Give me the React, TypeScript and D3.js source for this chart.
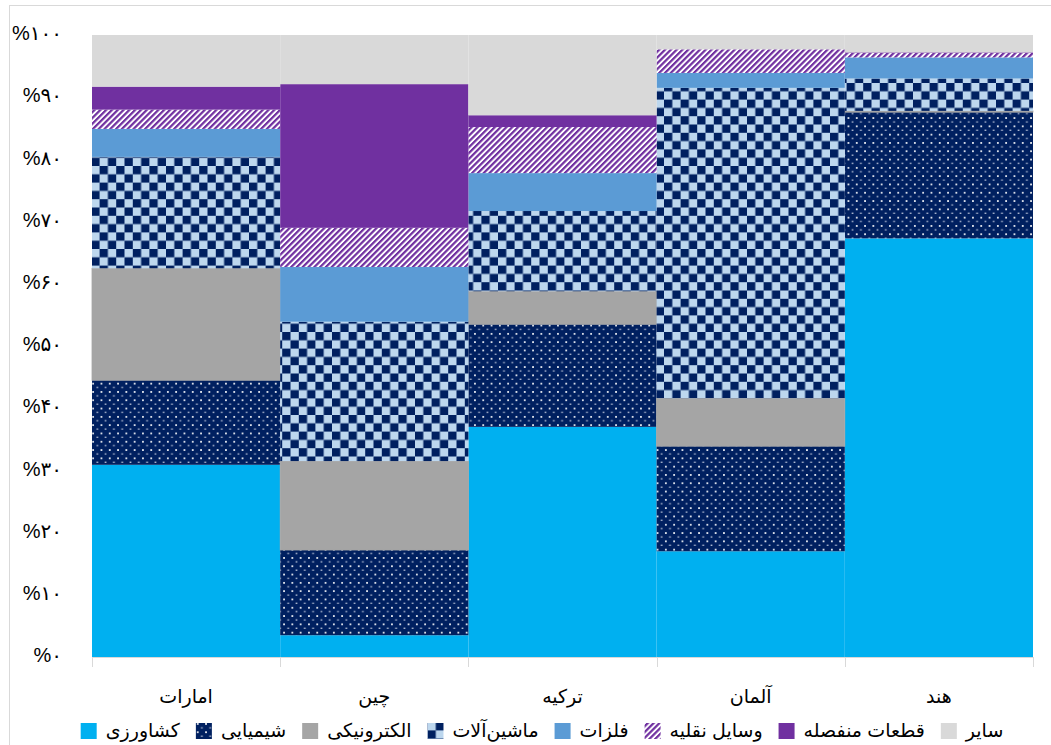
import React, { useEffect, useRef } from 'react';
import * as d3 from 'd3';

const categories = ['امارات', 'چین', 'ترکیه', 'آلمان', 'هند'];
const seriesNames = ['کشاورزی', 'شیمیایی', 'الکترونیکی', 'ماشین‌آلات', 'فلزات', 'وسایل نقلیه', 'قطعات منفصله', 'سایر'];
const agriculture = [30.9, 3.5, 37.0, 17.0, 67.3];
const chemical = [13.6, 13.7, 16.5, 16.9, 20.3];
const electronic = [18.0, 14.3, 5.3, 7.7, 0.2];
const machinery = [17.9, 22.4, 12.9, 49.9, 5.2];
const metals = [4.5, 8.8, 6.1, 2.4, 3.4];
const vehicles = [3.1, 6.3, 7.4, 3.8, 0.7];
const parts = [3.7, 23.1, 1.9, 0.0, 0.1];
const other = [8.3, 7.9, 12.9, 2.3, 2.8];
const yTicks = [0, 10, 20, 30, 40, 50, 60, 70, 80, 90, 100];

const seriesValues = [agriculture, chemical, electronic, machinery, metals, vehicles, parts, other];
const fills = ['#00B0F0', 'url(#dots)', '#A5A5A5', 'url(#checker)', '#5B9BD5', 'url(#hatch)', '#7030A0', '#D9D9D9'];

const toPersian = (n: number) => String(n).replace(/\d/g, (d) => '۰۱۲۳۴۵۶۷۸۹'[+d]);

const FONT = "'Liberation Sans', 'DejaVu Sans', sans-serif";

export default function App() {
  const ref = useRef<SVGSVGElement | null>(null);

  useEffect(() => {
    const svg = d3.select(ref.current);
    svg.selectAll('*').remove();

    const defs = svg.append('defs');
    // dots pattern
    const dots = defs.append('pattern').attr('id', 'dots').attr('patternUnits', 'userSpaceOnUse')
      .attr('width', 8.3).attr('height', 8.3);
    dots.append('rect').attr('width', 8.3).attr('height', 8.3).attr('fill', '#002060');
    dots.append('rect').attr('x', 1).attr('y', 1).attr('width', 1.7).attr('height', 1.7).attr('fill', '#ffffff');
    dots.append('rect').attr('x', 5.15).attr('y', 5.15).attr('width', 1.7).attr('height', 1.2).attr('fill', '#c8d0e0');
    // checker pattern
    const ck = defs.append('pattern').attr('id', 'checker').attr('patternUnits', 'userSpaceOnUse')
      .attr('width', 16.6).attr('height', 16.6);
    ck.append('rect').attr('width', 16.6).attr('height', 16.6).attr('fill', '#BDD7EE');
    ck.append('rect').attr('width', 8.3).attr('height', 8.3).attr('fill', '#002060');
    ck.append('rect').attr('x', 8.3).attr('y', 8.3).attr('width', 8.3).attr('height', 8.3).attr('fill', '#002060');
    // hatch pattern
    const hp = defs.append('pattern').attr('id', 'hatch').attr('patternUnits', 'userSpaceOnUse')
      .attr('width', 4.1).attr('height', 4.1).attr('patternTransform', 'rotate(45)');
    hp.append('rect').attr('width', 4.1).attr('height', 4.1).attr('fill', '#ffffff');
    hp.append('rect').attr('width', 2.2).attr('height', 4.1).attr('fill', '#7030A0');

    // chart border
    svg.append('rect').attr('x', 9.5).attr('y', 5.5).attr('width', 1200).attr('height', 900)
      .attr('fill', '#ffffff').attr('stroke', '#D9D9D9').attr('stroke-width', 1);

    const x = d3.scaleBand<string>().domain(categories).range([92, 1033]).padding(0);
    const y = d3.scaleLinear().domain([0, 100]).range([657, 35]);

    const rows = categories.map((c, i) => {
      const r: Record<string, any> = { cat: c };
      seriesNames.forEach((s, j) => { r[s] = seriesValues[j][i]; });
      return r;
    });
    const stacked = d3.stack<any>().keys(seriesNames)(rows);

    const g = svg.append('g');
    stacked.forEach((layer, j) => {
      g.selectAll(null).data(layer).enter().append('rect')
        .attr('x', (d: any) => x(d.data.cat)!)
        .attr('width', x.bandwidth())
        .attr('y', (d: any) => y(d[1]))
        .attr('height', (d: any) => Math.max(0, y(d[0]) - y(d[1])))
        .attr('fill', fills[j])
        .attr('stroke', j === 2 ? '#A5A5A5' : 'none')
        .attr('stroke-width', j === 2 ? 0.8 : 0);
    });

    // x axis line and ticks
    const ax = svg.append('g');
    ax.append('line').attr('x1', 92).attr('x2', 1033).attr('y1', 657.5).attr('y2', 657.5)
      .attr('stroke', '#D9D9D9').attr('stroke-width', 1);
    const bounds = categories.map((c) => x(c)!).concat([x.range()[1]]);
    ax.selectAll(null).data(bounds).enter().append('line')
      .attr('x1', (d) => Math.round(d) + 0.5).attr('x2', (d) => Math.round(d) + 0.5)
      .attr('y1', 657).attr('y2', 667).attr('stroke', '#D9D9D9').attr('stroke-width', 1);

    ax.selectAll(null).data(categories).enter().append('text')
      .attr('x', (d) => x(d)! + x.bandwidth() / 2)
      .attr('y', 698)
      .attr('text-anchor', 'middle')
      .attr('dominant-baseline', 'middle')
      .attr('font-family', FONT)
      .attr('font-size', 19)
      .attr('fill', '#000')
      .text((d) => d);

    // y labels
    svg.append('g').selectAll(null).data(yTicks).enter().append('text')
      .attr('x', 62)
      .attr('y', (d) => y(d))
      .attr('text-anchor', 'end')
      .attr('dominant-baseline', 'middle')
      .attr('font-family', FONT)
      .attr('font-size', 20)
      .attr('fill', '#000')
      .text((d) => '%' + toPersian(d));

    // legend
    const lg = svg.append('g');
    const items = seriesNames.map((name, j) => {
      const it = lg.append('g');
      it.append('rect').attr('width', 16).attr('height', 16).attr('y', 723).attr('fill', fills[j]);
      const t = it.append('text').attr('x', 25).attr('y', 732)
        .attr('dominant-baseline', 'middle')
        .attr('font-family', FONT).attr('font-size', 19).attr('fill', '#000').text(name);
      const w = (t.node() as SVGTextElement).getComputedTextLength();
      return { it, w: 25 + w };
    });
    const gap = 16;
    const total = d3.sum(items, (d) => d.w) + gap * (items.length - 1);
    let cx = 542 - total / 2;
    items.forEach((d) => {
      d.it.attr('transform', `translate(${cx},0)`);
      cx += d.w + gap;
    });
  }, []);

  return (
    <svg
      ref={ref}
      width={1051}
      height={745}
      style={{ position: 'absolute', left: 0, top: 0, background: '#fff' }}
    />
  );
}
